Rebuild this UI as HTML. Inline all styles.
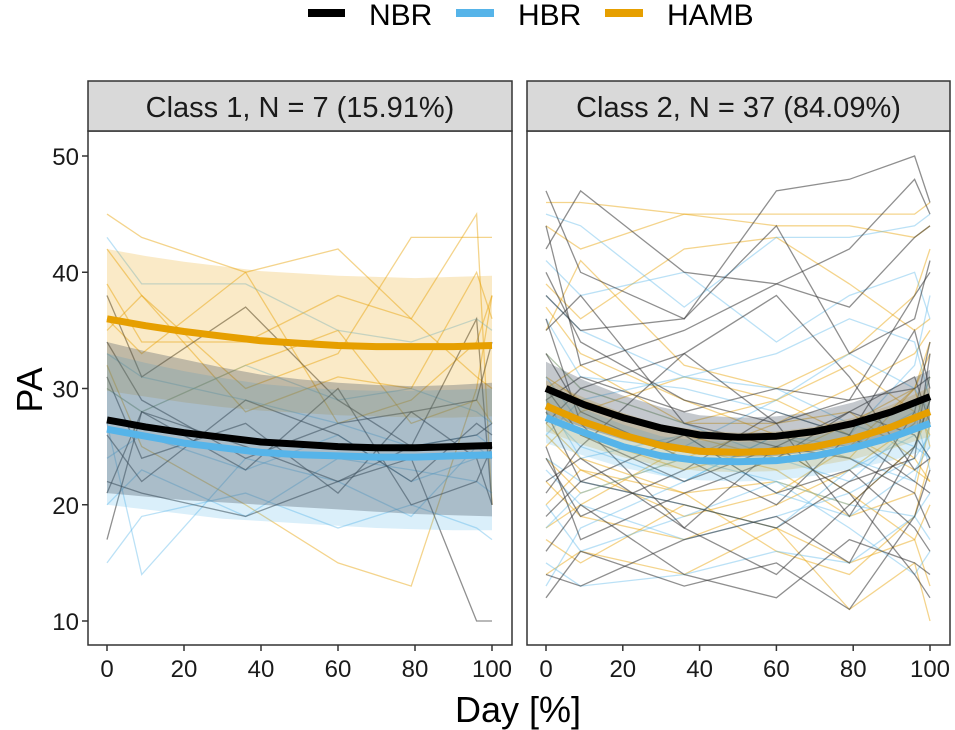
<!DOCTYPE html>
<html><head><meta charset="utf-8">
<style>
body{margin:0;background:#fff;}
svg{display:block;font-family:"Liberation Sans",Arial,sans-serif;}
</style></head>
<body>
<svg id="chart" width="955" height="730" viewBox="0 0 955 730" xmlns="http://www.w3.org/2000/svg">
  <g>
    <g>
      <line x1="308" y1="13" x2="345" y2="13" stroke="#000" stroke-width="8"/>
      <text x="369" y="25" font-size="30" fill="#000">NBR</text>
    </g>
    <g>
      <line x1="456" y1="13" x2="494" y2="13" stroke="#56B4E9" stroke-width="8"/>
      <text x="518" y="25" font-size="30" fill="#000">HBR</text>
    </g>
    <g>
      <line x1="605" y1="13" x2="643" y2="13" stroke="#E69F00" stroke-width="8"/>
      <text x="667" y="25" font-size="30" fill="#000">HAMB</text>
    </g>
  </g>
  <g id="panels"></g>
  <text x="518" y="722" font-size="36" text-anchor="middle" fill="#000">Day [%]</text>
  <text x="0" y="0" font-size="36" text-anchor="middle" fill="#000" transform="translate(42,390) rotate(-90)">PA</text>
</svg>
<script>
// ---- data ----
const xTicks = [0, 20, 40, 60, 80, 100];
const yTicks = [10, 20, 30, 40, 50];
const meanX = [0, 10, 20, 30, 40, 50, 60, 70, 80, 90, 100];
// Class 1 fitted means and ribbons
const c1NBR = [27.3, 26.7, 26.2, 25.8, 25.4, 25.2, 25.0, 24.9, 24.9, 25.0, 25.1];
const c1NBRlo = [21.0, 20.7, 20.4, 20.2, 20.0, 19.8, 19.6, 19.4, 19.2, 19.1, 19.0];
const c1NBRhi = [34.0, 33.2, 32.5, 31.8, 31.2, 30.8, 30.5, 30.3, 30.2, 30.3, 30.5];
const c1HBR = [26.5, 25.9, 25.3, 24.9, 24.5, 24.3, 24.2, 24.1, 24.1, 24.2, 24.3];
const c1HBRlo = [20.0, 19.6, 19.2, 18.8, 18.6, 18.4, 18.2, 18.0, 17.9, 17.8, 17.8];
const c1HBRhi = [33.0, 32.2, 31.5, 30.9, 30.4, 30.1, 29.9, 29.8, 29.8, 29.9, 30.0];
const c1HAMB = [36.0, 35.4, 34.9, 34.5, 34.1, 33.9, 33.7, 33.6, 33.6, 33.6, 33.7];
const c1HAMBlo = [29.8, 29.3, 28.8, 28.4, 28.1, 27.9, 27.7, 27.6, 27.5, 27.5, 27.6];
const c1HAMBhi = [42.0, 41.4, 40.9, 40.5, 40.1, 39.9, 39.7, 39.6, 39.5, 39.6, 39.7];
// Class 2 fitted means and ribbons
const c2NBR = [30.0, 28.6, 27.5, 26.6, 26.0, 25.8, 25.9, 26.3, 27.0, 28.0, 29.3];
const c2NBRlo = [27.8, 26.6, 25.6, 24.8, 24.3, 24.1, 24.2, 24.6, 25.2, 26.0, 27.0];
const c2NBRhi = [32.3, 30.7, 29.4, 28.4, 27.7, 27.5, 27.6, 28.0, 28.8, 30.0, 31.6];
const c2HBR = [27.5, 26.2, 25.0, 24.2, 23.8, 23.7, 23.8, 24.2, 24.9, 25.8, 27.0];
const c2HBRlo = [25.3, 24.2, 23.2, 22.5, 22.1, 22.0, 22.1, 22.5, 23.1, 23.8, 24.8];
const c2HBRhi = [29.7, 28.2, 26.9, 25.9, 25.5, 25.4, 25.5, 25.9, 26.7, 27.8, 29.2];
const c2HAMB = [28.5, 27.1, 26.0, 25.1, 24.6, 24.5, 24.6, 25.0, 25.7, 26.7, 28.0];
const c2HAMBlo = [26.3, 25.1, 24.1, 23.3, 22.9, 22.8, 22.9, 23.3, 23.9, 24.8, 25.9];
const c2HAMBhi = [30.7, 29.2, 27.9, 26.9, 26.4, 26.2, 26.3, 26.7, 27.5, 28.6, 30.1];
// individual trajectories: measurement days and values
const c1Days = [0, 9, 36, 60, 79, 96, 100];
const c1IndNBR = [
 [38, 31, 37, 29, 25, 36, 20],[17, 28, 23, 30, 20, 22, 25],[34, 29, 24, 27, 28, 24, 20],
 [22, 21, 19, 22, 24, 10, 10],[31, 24, 27, 21, 28, 29, 34],[26, 22, 29, 26, 22, 27, 26],[21, 28, 25, 22, 25, 26, 27]];
const c1IndHBR = [
 [43, 39, 39, 35, 34, 36, 35],[15, 19, 21, 18, 20, 18, 17],[27, 14, 24, 22, 19, 25, 24],
 [30, 28, 32, 29, 30, 28, 27],[24, 26, 23, 26, 22, 24, 24],[33, 31, 29, 27, 25, 26, 25],[20, 23, 19, 24, 23, 22, 21]];
const c1IndHAMB = [
 [45, 43, 40, 42, 36, 45, 20],[42, 38, 30, 33, 43, 43, 43],[36, 33, 40, 27, 29, 34, 38],
 [32, 25, 20, 15, 13, 30, 38],[39, 34, 34, 38, 36, 31, 30],[30, 28, 32, 35, 27, 29, 27],[35, 38, 28, 31, 30, 40, 36]];
const c2Days = [0, 9, 36, 60, 79, 96, 100];
const c2IndNBR = [
 [47, 40, 36, 47, 48, 50, 46],[44, 32, 35, 39, 42, 48, 45],[42, 47, 40, 39, 37, 43, 44],
 [38, 35, 36, 44, 33, 36, 41],[30, 26, 22, 25, 24, 21, 18],[27, 30, 33, 38, 31, 23, 24],
 [21, 25, 33, 27, 19, 28, 34],[36, 27, 18, 14, 20, 25, 29],[12, 16, 13, 15, 11, 19, 23],
 [25, 17, 21, 24, 28, 31, 27],[16, 20, 14, 12, 17, 15, 14],[33, 28, 24, 20, 26, 35, 30],
 [29, 31, 28, 30, 29, 30, 31],[19, 22, 26, 21, 23, 18, 16],[40, 34, 29, 27, 29, 38, 40],
 [24, 19, 23, 28, 26, 22, 21],[14, 13, 17, 19, 15, 25, 29],[35, 38, 27, 25, 28, 26, 24],
 [28, 22, 20, 18, 22, 24, 33],[22, 24, 18, 25, 21, 14, 12]];
const c2IndHBR = [
 [45, 44, 37, 43, 43, 44, 45],[41, 38, 40, 34, 38, 40, 36],[36, 31, 30, 28, 26, 32, 38],
 [28, 25, 22, 26, 24, 22, 27],[18, 21, 24, 22, 20, 19, 17],[31, 27, 25, 29, 33, 30, 28],
 [23, 20, 17, 19, 21, 24, 26],[15, 13, 14, 16, 15, 19, 21],[26, 29, 31, 30, 27, 25, 24],
 [20, 16, 19, 22, 18, 14, 16],[33, 30, 27, 24, 22, 27, 31],[13, 18, 22, 26, 25, 28, 23],
 [29, 24, 26, 21, 19, 23, 25],[38, 35, 31, 33, 36, 34, 29],[24, 22, 20, 18, 23, 26, 24]];
const c2IndHAMB = [
 [46, 46, 45, 44, 44, 43, 44],[44, 42, 45, 45, 45, 45, 46],[39, 36, 42, 43, 39, 35, 36],
 [35, 41, 32, 30, 33, 38, 42],[31, 29, 26, 24, 27, 30, 33],[27, 24, 21, 22, 20, 25, 28],
 [22, 19, 17, 20, 23, 27, 31],[17, 15, 20, 18, 15, 17, 13],[25, 28, 31, 29, 26, 23, 22],
 [33, 30, 27, 27, 30, 33, 35],[20, 23, 21, 16, 14, 19, 24],[29, 26, 23, 25, 21, 17, 20],
 [14, 16, 14, 18, 11, 15, 10],[37, 33, 29, 26, 24, 30, 34],[24, 21, 24, 27, 28, 24, 22],
 [18, 20, 25, 23, 19, 21, 27],[30, 32, 27, 29, 32, 28, 26],[26, 23, 19, 21, 25, 30, 25]];

const NS = "http://www.w3.org/2000/svg";
const COL = {NBR: "#000000", HBR: "#56B4E9", HAMB: "#E69F00"};
const panelsG = document.getElementById('panels');
function mk(tag, attrs, parent){const e=document.createElementNS(NS,tag);for(const k in attrs)e.setAttribute(k,attrs[k]);parent.appendChild(e);return e;}

const yTop = 131, yBot = 645;
function yScale(v){ return 621 - (v - 10) * 11.625; }

function drawPanel(p){
  const g = mk('g', {}, panelsG);
  
  
  const xScale = v => p.x0 + (v / 100) * (p.x100 - p.x0);
  const clip = 'clip-' + p.name;
  const cp = mk('clipPath', {id: clip}, g);
  mk('rect', {x: p.left, y: yTop, width: p.right - p.left, height: yBot - yTop}, cp);
  const plot = mk('g', {'clip-path': 'url(#' + clip + ')'}, g);
  const ribbon = (lo, hi, col, op, nm) => {
    let d = meanX.map((x,i)=> (i?'L':'M') + xScale(x).toFixed(1) + ',' + yScale(hi[i]).toFixed(1)).join('');
    for (let i = meanX.length-1; i>=0; i--) d += 'L' + xScale(meanX[i]).toFixed(1) + ',' + yScale(lo[i]).toFixed(1);
    const e = mk('path', {d: d+'Z', fill: col, 'fill-opacity': op, stroke: 'none'}, plot);
    
    
  };
  const ind = (arr, col, op, nm) => arr.forEach(ys => {
    const e = mk('polyline', {points: ys.map((y,i)=> xScale(p.days[i]).toFixed(1)+','+yScale(y).toFixed(1)).join(' '), fill:'none', stroke: col, 'stroke-opacity': op, 'stroke-width': 1.3}, plot);
    
    
  });
  ind(p.indHAMB, COL.HAMB, 0.45, 'individual-line-hamb');
  ind(p.indHBR, COL.HBR, 0.4, 'individual-line-hbr');
  ind(p.indNBR, '#333', 0.55, 'individual-line-nbr');
  ribbon(p.hambLo, p.hambHi, COL.HAMB, 0.22, 'ribbon-hamb');
  ribbon(p.hbrLo, p.hbrHi, COL.HBR, 0.22, 'ribbon-hbr');
  ribbon(p.nbrLo, p.nbrHi, '#3a4a58', 0.3, 'ribbon-nbr');
  const mean = (m, col, nm) => {
    const e = mk('polyline', {points: meanX.map((x,i)=>xScale(x).toFixed(1)+','+yScale(m[i]).toFixed(1)).join(' '), fill:'none', stroke: col, 'stroke-width': 7, 'stroke-linejoin':'round'}, plot);
    
    
  };
  mean(p.hamb, COL.HAMB, 'mean-line-hamb');
  mean(p.hbr, COL.HBR, 'mean-line-hbr');
  mean(p.nbr, COL.NBR, 'mean-line-nbr');
  const fr = mk('rect', {x: p.left, y: yTop, width: p.right - p.left, height: yBot - yTop, fill: 'none', stroke: '#333', 'stroke-width': 1.5}, g);
  
  
  const st = mk('rect', {x: p.left, y: 81, width: p.right - p.left, height: 50, fill: '#d9d9d9', stroke: '#333', 'stroke-width': 1.5}, g);
  
  
  const stt = mk('text', {x: (p.left + p.right)/2, y: 117, 'font-size': 29, 'text-anchor': 'middle', fill: '#1a1a1a'}, g);
  stt.textContent = p.title;
  
  
  xTicks.forEach(t => {
    const x = xScale(t);
    mk('line', {x1: x, y1: yBot, x2: x, y2: yBot + 6, stroke: '#333', 'stroke-width': 1.5}, g);
    const tx = mk('text', {x: x, y: 677, 'font-size': 24, 'text-anchor': 'middle', fill: '#1a1a1a'}, g);
    tx.textContent = t;
    
    
  });
  if (p.yAxis) {
    yTicks.forEach(t => {
      const y = yScale(t);
      mk('line', {x1: p.left - 6, y1: y, x2: p.left, y2: y, stroke: '#333', 'stroke-width': 1.5}, g);
      const ty = mk('text', {x: p.left - 9, y: y + 9, 'font-size': 24, 'text-anchor': 'end', fill: '#1a1a1a'}, g);
      ty.textContent = t;
      
      
    });
  }
}

drawPanel({name:'panel-class-1', title:'Class 1, N = 7 (15.91%)', left:88, right:512, x0:107, x100:492, yAxis:true,
  days:c1Days, indNBR:c1IndNBR, indHBR:c1IndHBR, indHAMB:c1IndHAMB,
  nbr:c1NBR, nbrLo:c1NBRlo, nbrHi:c1NBRhi, hbr:c1HBR, hbrLo:c1HBRlo, hbrHi:c1HBRhi, hamb:c1HAMB, hambLo:c1HAMBlo, hambHi:c1HAMBhi});
drawPanel({name:'panel-class-2', title:'Class 2, N = 37 (84.09%)', left:527, right:950, x0:546, x100:930, yAxis:false,
  days:c2Days, indNBR:c2IndNBR, indHBR:c2IndHBR, indHAMB:c2IndHAMB,
  nbr:c2NBR, nbrLo:c2NBRlo, nbrHi:c2NBRhi, hbr:c2HBR, hbrLo:c2HBRlo, hbrHi:c2HBRhi, hamb:c2HAMB, hambLo:c2HAMBlo, hambHi:c2HAMBhi});
</script>
</body></html>
